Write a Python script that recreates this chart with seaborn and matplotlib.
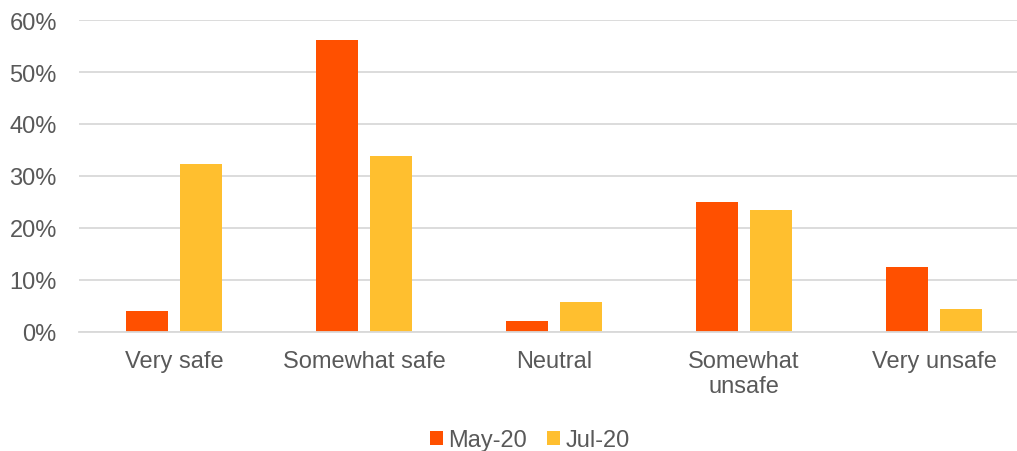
import matplotlib
matplotlib.use("Agg")
import matplotlib.pyplot as plt
import seaborn as sns
import pandas as pd
from matplotlib.patches import Patch

# Survey responses: perceived safety, share of respondents (%)
categories = ["Very safe", "Somewhat safe", "Neutral", "Somewhat\nunsafe", "Very unsafe"]
may_20 = [4.1, 56.2, 2.1, 25.0, 12.5]
jul_20 = [32.3, 33.8, 5.8, 23.5, 4.4]
series_names = ["May-20", "Jul-20"]
y_ticks = [0, 10, 20, 30, 40, 50, 60]
y_tick_labels = ["0%", "10%", "20%", "30%", "40%", "50%", "60%"]

colors = ["#FF5000", "#FFBF2F"]
text_color = "#595959"
grid_color = "#D9D9D9"

df = pd.DataFrame({
    "category": categories * 2,
    "series": [series_names[0]] * len(categories) + [series_names[1]] * len(categories),
    "value": may_20 + jul_20,
})

sns.set_theme(style="white")
plt.rcParams["font.family"] = ["Liberation Sans", "DejaVu Sans"]

W, H = 1017, 452
fig = plt.figure(figsize=(W / 100, H / 100), dpi=100)
# plot area: left edge 79px, 0% line at 333px, 60% line at 21px, 190px per category
ax = fig.add_axes([79 / W, (H - 333) / H, 950 / W, 312 / H])

sns.barplot(data=df, x="category", y="value", hue="series", order=categories,
            hue_order=series_names, palette=colors, width=0.568, gap=0.21,
            saturation=1, ax=ax, legend=False, linewidth=0)

ax.set_xlim(-0.5, len(categories) - 0.5)
ax.set_ylim(0, 60)
ax.set_yticks(y_ticks)
ax.set_yticklabels(y_tick_labels)
ax.yaxis.grid(True, color=grid_color, linewidth=1.3)
ax.set_axisbelow(True)
ax.set_xlabel("")
ax.set_ylabel("")

for side in ["top", "right", "left"]:
    ax.spines[side].set_visible(False)
ax.spines["bottom"].set_color(grid_color)
ax.spines["bottom"].set_linewidth(1.3)

ax.tick_params(axis="y", length=0, pad=16, labelsize=17, labelcolor=text_color)
ax.tick_params(axis="x", which="major", length=0, pad=13, labelsize=17, labelcolor=text_color)
ax.set_xticks([i - 0.5 for i in range(len(categories) + 1)], minor=True)
ax.tick_params(axis="x", which="minor", length=5, width=1.3, color=grid_color, direction="out")
for lbl in ax.get_xticklabels():
    lbl.set_linespacing(1.2)

handles = [Patch(facecolor=c, edgecolor="none") for c in colors]
fig.legend(handles, series_names, loc="center", bbox_to_anchor=(530 / W, 11 / H),
           ncol=2, frameon=False, fontsize=17, labelcolor=text_color,
           handlelength=0.52, handleheight=0.52, handletextpad=0.25,
           columnspacing=0.85, borderpad=0)

fig.savefig("out.png", dpi=100)
